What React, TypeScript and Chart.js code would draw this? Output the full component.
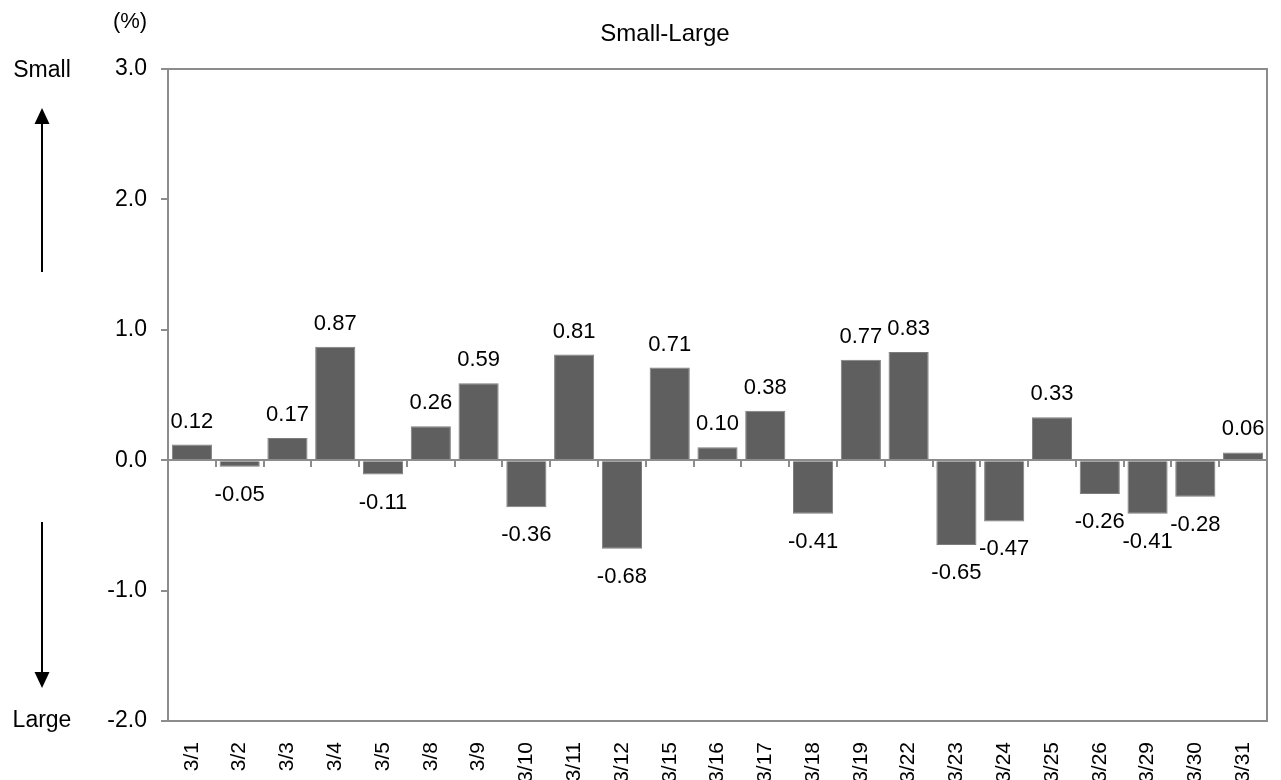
import React, { useEffect, useRef } from 'react';
import { Chart, registerables } from 'chart.js';

Chart.register(...registerables);

const categories = ['3/1', '3/2', '3/3', '3/4', '3/5', '3/8', '3/9', '3/10', '3/11', '3/12', '3/15', '3/16', '3/17', '3/18', '3/19', '3/22', '3/23', '3/24', '3/25', '3/26', '3/29', '3/30', '3/31'];
const values = [0.12, -0.05, 0.17, 0.87, -0.11, 0.26, 0.59, -0.36, 0.81, -0.68, 0.71, 0.10, 0.38, -0.41, 0.77, 0.83, -0.65, -0.47, 0.33, -0.26, -0.41, -0.28, 0.06];
const yMin = -2;
const yMax = 3;
const yStep = 1;
const titleText = 'Small-Large';
const unitText = '(%)';
const upText = 'Small';
const downText = 'Large';

const FONT = '"Liberation Sans", Arial, Helvetica, sans-serif';
const AXIS_GRAY = '#8c8c8c';
const BAR_FILL = '#5f5f5f';

const overlay = {
  id: 'overlay',
  afterDatasetsDraw(chart: any) {
    const { ctx, chartArea } = chart;
    const { left, right, top, bottom } = chartArea;
    const yScale = chart.scales.y;
    const n = categories.length;
    const w = (right - left) / n;
    ctx.save();
    // frame
    ctx.strokeStyle = AXIS_GRAY;
    ctx.lineWidth = 2;
    ctx.strokeRect(left, top, right - left, bottom - top);
    // zero line with category tick marks
    const y0 = Math.round(yScale.getPixelForValue(0));
    ctx.beginPath();
    ctx.moveTo(left, y0);
    ctx.lineTo(right, y0);
    for (let i = 1; i < n; i++) {
      const x = Math.round(left + i * w);
      ctx.moveTo(x, y0);
      ctx.lineTo(x, y0 + 7);
    }
    ctx.stroke();

    // data labels
    const meta = chart.getDatasetMeta(0);
    ctx.fillStyle = '#000';
    ctx.font = `22px ${FONT}`;
    ctx.textAlign = 'center';
    ctx.textBaseline = 'alphabetic';
    meta.data.forEach((bar: any, i: number) => {
      const v = values[i];
      const label = v.toFixed(2);
      if (v >= 0) {
        const t = Math.min(bar.y, bar.base);
        ctx.fillText(label, bar.x, t - 17);
      } else {
        const b = Math.max(bar.y, bar.base);
        ctx.fillText(label, bar.x, b + 34);
      }
    });

    // title
    ctx.font = `24px ${FONT}`;
    ctx.fillText(titleText, 665, 41);
    // unit
    ctx.font = `22px ${FONT}`;
    ctx.fillText(unitText, 130, 28);
    // side labels
    ctx.font = `23px ${FONT}`;
    ctx.fillText(upText, 42, 77);
    ctx.fillText(downText, 42, 727);

    // arrows
    ctx.strokeStyle = '#000';
    ctx.fillStyle = '#000';
    ctx.lineWidth = 2;
    ctx.beginPath();
    ctx.moveTo(42, 272);
    ctx.lineTo(42, 122);
    ctx.moveTo(42, 522);
    ctx.lineTo(42, 674);
    ctx.stroke();
    ctx.beginPath();
    ctx.moveTo(42, 108);
    ctx.lineTo(34.5, 124);
    ctx.lineTo(49.5, 124);
    ctx.closePath();
    ctx.fill();
    ctx.beginPath();
    ctx.moveTo(42, 688);
    ctx.lineTo(34.5, 672);
    ctx.lineTo(49.5, 672);
    ctx.closePath();
    ctx.fill();
    ctx.restore();
  },
};

export default function App() {
  const ref = useRef<HTMLCanvasElement | null>(null);
  useEffect(() => {
    document.body.style.margin = '0';
    const canvas = ref.current;
    if (!canvas) return;
    const chart = new Chart(canvas, {
      type: 'bar',
      data: {
        labels: categories,
        datasets: [
          {
            data: values,
            backgroundColor: BAR_FILL,
            borderColor: '#7d7d7d',
            borderWidth: 1,
            barPercentage: 0.84,
            categoryPercentage: 1.0,
          },
        ],
      },
      options: {
        animation: false,
        responsive: false,
        maintainAspectRatio: false,
        devicePixelRatio: 1,
        layout: { padding: { left: 0, right: 14, top: 69, bottom: 0 } },
        plugins: {
          legend: { display: false },
          title: { display: false },
          tooltip: { enabled: false },
        },
        scales: {
          x: {
            type: 'category',
            offset: true,
            grid: { display: false },
            border: { display: false },
            ticks: {
              color: '#000',
              font: { family: FONT, size: 21 },
              minRotation: 90,
              maxRotation: 90,
              autoSkip: false,
              padding: 13,
            },
            afterFit: (s: any) => {
              s.height = 59;
              s.paddingLeft = 0;
              s.paddingRight = 0;
            },
          },
          y: {
            min: yMin,
            max: yMax,
            grid: {
              drawOnChartArea: false,
              drawTicks: true,
              tickLength: 7,
              color: AXIS_GRAY,
              lineWidth: 2,
            },
            border: { display: false },
            ticks: {
              stepSize: yStep,
              color: '#000',
              font: { family: FONT, size: 23 },
              padding: 14,
              callback: (v: any) => Number(v).toFixed(1),
            },
            afterFit: (s: any) => {
              s.width = 168;
              s.paddingTop = 0;
              s.paddingBottom = 0;
            },
          },
        },
      },
      plugins: [overlay],
    });
    return () => chart.destroy();
  }, []);
  return (
    <div style={{ width: 1281, height: 780, position: 'relative', background: '#fff' }}>
      <canvas ref={ref} width={1281} height={780} style={{ width: 1281, height: 780, display: 'block' }} />
    </div>
  );
}
